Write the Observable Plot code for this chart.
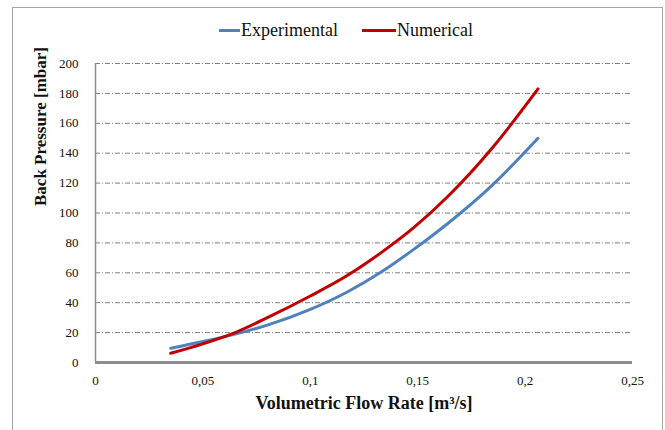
<!DOCTYPE html>
<html>
<head>
<meta charset="utf-8">
<script src="https://cdn.jsdelivr.net/npm/d3@7"></script>
<script src="https://cdn.jsdelivr.net/npm/@observablehq/plot@0.6"></script>
<style>
  body { margin: 0; background: #fff; }
  #wrap { position: relative; width: 665px; height: 430px; font-family: "Liberation Serif", "DejaVu Serif", serif; }
  #frame { position: absolute; left: 12px; top: 7px; width: 651px; height: 440px; border: 1px solid #a6a6a6; box-sizing: border-box; pointer-events: none; }
  #legend { position: absolute; top: 19px; left: 0; width: 665px; height: 22px; font-size: 18px; color: #111; font-family: "Liberation Serif", "DejaVu Serif", serif; }
  .item { position: absolute; top: 0; display: flex; align-items: center; height: 22px; }
  .sw { display: inline-block; height: 3px; margin-right: 1px; }
  #chart svg text { font-family: "Liberation Serif", "DejaVu Serif", serif; }
</style>
</head>
<body>
<div id="wrap">
  <div id="chart"></div>
  <div id="legend"></div>
  <div id="frame"></div>
</div>
<script>
// Series names and colours
const seriesNames = ["Experimental", "Numerical"];
const seriesColors = ["#4f81bd", "#c00000"];

// Experimental curve: flow rate [m3/s] and back pressure [mbar]
const expFlow = [0.035, 0.05, 0.065, 0.08, 0.1, 0.117, 0.133, 0.148, 0.164, 0.185, 0.206];
const expPressure = [9.5, 14, 19, 25, 35.5, 47, 60.5, 75.5, 93, 119, 150];

// Numerical curve
const numFlow = [0.035, 0.05, 0.065, 0.08, 0.1, 0.117, 0.133, 0.148, 0.164, 0.185, 0.206];
const numPressure = [6.2, 12.5, 20, 30, 44.5, 58, 73.5, 90, 111, 144, 183];

// Axis ticks
const xTicks = [0, 0.05, 0.1, 0.15, 0.2, 0.25];
const yTicks = [0, 20, 40, 60, 80, 100, 120, 140, 160, 180, 200];
const xTitle = "Volumetric Flow Rate [m³/s]";
const yTitle = "Back Pressure [mbar]";

const expData = expFlow.map((f, i) => ({flow: f, p: expPressure[i], s: seriesNames[0]}));
const numData = numFlow.map((f, i) => ({flow: f, p: numPressure[i], s: seriesNames[1]}));

const fmtX = d => String(d).replace(".", ",");
const serif = "'Liberation Serif', 'DejaVu Serif', serif";

const chart = Plot.plot({
  width: 665,
  height: 430,
  marginLeft: 95,
  marginRight: 33,
  marginTop: 63,
  marginBottom: 68,
  style: { fontFamily: serif, background: "transparent", color: "#111" },
  x: { domain: [0, 0.25] },
  y: { domain: [0, 200] },
  marks: [
    Plot.gridY(yTicks.filter(d => d > 0), { stroke: "#7f7f7f", strokeOpacity: 1, strokeWidth: 1, strokeDasharray: "5,2,1,2" }),
    Plot.axisY(yTicks, { tickSize: 0, tickPadding: 17, fontSize: 13, fontFamily: serif, label: null }),
    Plot.axisX(xTicks, { tickSize: 0, tickPadding: 13, fontSize: 13, fontFamily: serif, tickFormat: fmtX, label: null }),
    Plot.ruleX([0], { stroke: "#8c8c8c", strokeWidth: 1.5 }),
    Plot.line(expData, { x: "flow", y: "p", stroke: seriesColors[0], strokeWidth: 3, curve: "monotone-x" }),
    Plot.line(numData, { x: "flow", y: "p", stroke: seriesColors[1], strokeWidth: 3, curve: "monotone-x" }),
    Plot.ruleY([0], { stroke: "#8c8c8c", strokeWidth: 3 }),
    Plot.text([xTitle], { text: d => d, frameAnchor: "bottom", dy: 46, fontSize: 18, fontWeight: "bold", fontFamily: serif, fill: "#111" }),
    Plot.text([yTitle], { text: d => d, frameAnchor: "left", dx: -55, dy: -7, rotate: -90, fontSize: 17, fontWeight: "bold", fontFamily: serif, fill: "#111" })
  ]
});
document.getElementById("chart").appendChild(chart);

// Legend
const legend = document.getElementById("legend");
const legendPos = [{left: 219, w: 21}, {left: 362, w: 34}];
seriesNames.forEach((name, i) => {
  const item = document.createElement("div");
  item.className = "item";
  item.style.left = legendPos[i].left + "px";
  const sw = document.createElement("span");
  sw.className = "sw";
  sw.style.width = legendPos[i].w + "px";
  sw.style.background = seriesColors[i];
  const t = document.createElement("span");
  t.textContent = name;
  item.appendChild(sw);
  item.appendChild(t);
  legend.appendChild(item);
});
</script>
</body>
</html>
